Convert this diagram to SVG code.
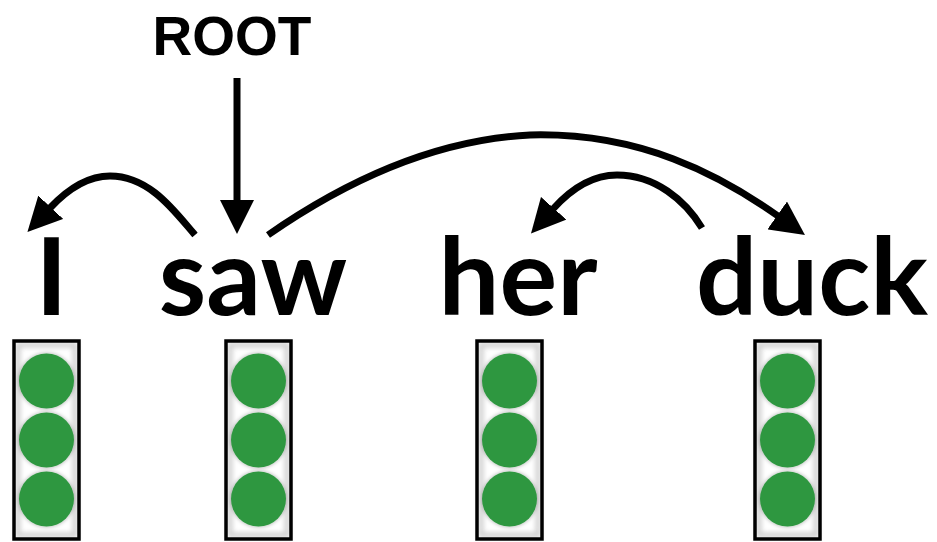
<svg xmlns="http://www.w3.org/2000/svg" width="937" height="542" viewBox="0 0 937 542">
<style>
.word{font-family:Lato,"Open Sans","Liberation Sans",sans-serif;font-weight:700;font-size:108px;fill:#000;text-anchor:middle}
.root{font-family:"Liberation Sans",Arial,sans-serif;font-weight:700;font-size:55px;fill:#000;text-anchor:middle}
.edge{fill:none;stroke:#000;stroke-width:7;marker-end:url(#ah)}
.frame{fill:none;stroke:#000;stroke-width:3.5}
.glow{fill:none;stroke:#cfcfcf;stroke-width:5;filter:url(#blur)}
.dot{fill:#2f9741;filter:url(#sh)}
</style>
<defs>
<marker id="ah" markerUnits="userSpaceOnUse" markerWidth="34" markerHeight="34" viewBox="0 0 34 34" refX="1" refY="17" orient="auto">
<path d="M0,0 L34,17 L0,34 z" fill="#000"/>
</marker>
<filter id="blur" x="-20%" y="-20%" width="140%" height="140%"><feGaussianBlur stdDeviation="2.5"/></filter>
<filter id="sh" x="-30%" y="-30%" width="160%" height="160%"><feDropShadow dx="0" dy="0" stdDeviation="2" flood-color="#000" flood-opacity="0.35"/></filter>
<g id="vec">
<rect x="0" y="0" width="65" height="198" fill="#fff"/>
<rect x="4" y="4" width="57" height="190" class="glow"/>
<circle cx="32.5" cy="40" r="27.5" class="dot"/>
<circle cx="32.5" cy="99" r="27.5" class="dot"/>
<circle cx="32.5" cy="158" r="27.5" class="dot"/>
<rect x="0" y="0" width="65" height="198" class="frame"/>
</g>
</defs>
<rect width="937" height="542" fill="#fff"/>
<g id="root"><text class="root" x="232" y="55">ROOT</text></g>
<g id="w-I"><text class="word" x="51.5" y="315">I</text><use href="#vec" x="14" y="341"/></g>
<g id="w-saw"><text class="word" x="253" y="315">saw</text><use href="#vec" x="226" y="341"/></g>
<g id="w-her"><text class="word" x="518" y="315">her</text><use href="#vec" x="477" y="341"/></g>
<g id="w-duck"><text class="word" x="812" y="315">duck</text><use href="#vec" x="755" y="341"/></g>
<g id="connectors">
<path class="edge" d="M237,78 L237,201"/>
<path class="edge" d="M195,235 C175,212 150,176 110,176 C85,176 65,192 50,208"/>
<path class="edge" d="M268,235 C340,185 430,140 530,135 C640,132 720,175 778,216"/>
<path class="edge" d="M702,228 C685,200 655,175 617,175 C592,175 570,190 553,209"/>
</g>
</svg>
